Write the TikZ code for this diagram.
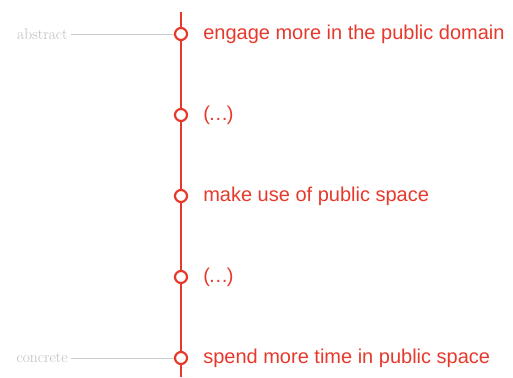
\documentclass[tikz,border=0pt]{standalone}
\usepackage{fontspec}
\newfontfamily\stagefont{Liberation Sans}
\usepackage{tikz}
\usetikzlibrary{positioning}
\definecolor{stagered}{RGB}{230,57,44}
\definecolor{scalegray}{RGB}{190,190,190}
\newcommand{\gap}{(\kern-1.5pt…\kern-1.5pt)}
\tikzset{
  stage/.style={circle, draw=stagered, fill=white, line width=2.2pt, minimum size=12pt, inner sep=0pt},
  stagetext/.style={text=stagered, font=\stagefont\fontsize{20}{24}\selectfont, inner sep=0pt, anchor=west},
  scaletext/.style={text=scalegray, font=\fontsize{15.5}{18}\selectfont, inner sep=3pt},
  axis/.style={draw=stagered, line width=2.2pt},
  tick/.style={draw=scalegray!80, line width=0.8pt}
}

\begin{document}
\begin{tikzpicture}[x=1pt,y=1pt]
      \useasboundingbox (0,0) rectangle (513,-377);
      \coordinate (Top) at (181,-12);
      \coordinate (Bot) at (181,-377);
      \draw[axis] (Top) -- (Bot);
      \node[stage] (S1) at (181,-34) {};
      \node[stage, on grid, below=81pt of S1] (S2) {};
      \node[stage, on grid, below=81pt of S2] (S3) {};
      \node[stage, on grid, below=81pt of S3] (S4) {};
      \node[stage, on grid, below=81pt of S4] (S5) {};
      \node[stagetext, right=15pt of S1] (T1) {engage more in the public domain};
      \node[stagetext, right=15pt of S2] (T2) {\gap};
      \node[stagetext, right=15pt of S3] (T3) {make use of public space};
      \node[stagetext, right=15pt of S4] (T4) {\gap};
      \node[stagetext, right=15pt of S5] (T5) {spend more time in public space};
      \node[scaletext, left=103pt of S1] (Abstract) {abstract};
      \node[scaletext, left=103pt of S5] (Concrete) {concrete};
      \draw[tick] (Abstract) -- (S1);
      \draw[tick] (Concrete) -- (S5);
    \end{tikzpicture}
\end{document}
